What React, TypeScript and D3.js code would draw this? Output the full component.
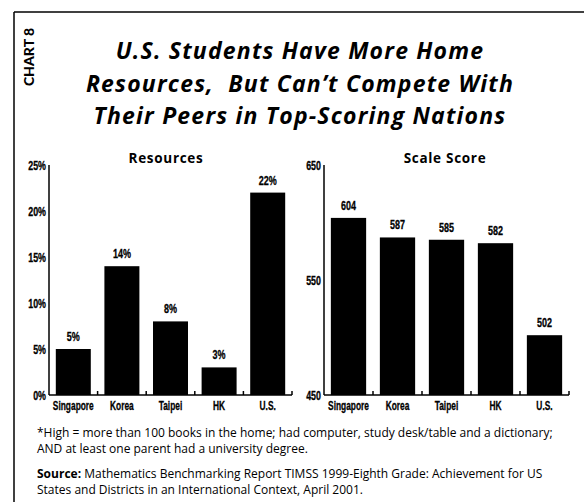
import React from "react";
import * as d3 from "d3";

const countries = ["Singapore", "Korea", "Taipei", "HK", "U.S."];
const resources = [5, 14, 8, 3, 22];
const scores = [604, 587, 585, 582, 502];
const resourceTicks = [0, 5, 10, 15, 20, 25];
const scoreTicks = [450, 550, 650];
const titleLines = [
  "U.S. Students Have More Home",
  "Resources,  But Can\u2019t Compete With",
  "Their Peers in Top-Scoring Nations",
];

const W = 584;
const H = 502;
const arial = "'Liberation Sans', Arial, sans-serif";
const humanist = "'Open Sans', Lato, sans-serif";

function Narrow({ x, y, size, sq, anchor, children }: { x: number; y: number; size: number; sq: number; anchor: string; children: React.ReactNode }) {
  return (
    <g transform={`translate(${x},${y}) scale(${sq},1)`}>
      <text x={0} y={0} textAnchor={anchor} fontFamily={arial} fontWeight={700} fontSize={size} stroke="#000" strokeWidth={0.3}>
        {children}
      </text>
    </g>
  );
}

type PanelProps = {
  x0: number;
  x1: number;
  titleX: number;
  title: string;
  values: number[];
  domain: [number, number];
  ticks: number[];
  fmt: (v: number) => string;
};

function Panel({ x0, x1, titleX, title, values, domain, ticks, fmt }: PanelProps) {
  const yTop = 165;
  const yBot = 395;
  const x = d3.scaleBand<string>().domain(countries).range([x0, x1]).paddingInner(0.28).paddingOuter(0.14);
  const y = d3.scaleLinear().domain(domain).range([yBot, yTop]);
  const step = x.step();
  const boundaries = countries.map((c) => (x(c) as number) + x.bandwidth() + (step * 0.28) / 2);
  return (
    <g>
      <text x={titleX} y={163} textAnchor="middle" fontFamily={humanist} fontWeight={700} fontSize={13.5} letterSpacing={0.7}>
        {title}
      </text>
      {values.map((v, i) => (
        <rect key={countries[i]} x={x(countries[i])} y={y(v)} width={x.bandwidth()} height={yBot - y(v)} fill="#000" />
      ))}
      {values.map((v, i) => (
        <Narrow key={"l" + countries[i]} x={(x(countries[i]) as number) + x.bandwidth() / 2} y={y(v) - 8} size={12.5} sq={0.72} anchor="middle">
          {fmt(v)}
        </Narrow>
      ))}
      <line x1={x0} x2={x0} y1={yTop} y2={yBot} stroke="#000" strokeWidth={1.5} />
      <line x1={x0} x2={x1} y1={yBot} y2={yBot} stroke="#000" strokeWidth={1.5} />
      {boundaries.map((bx, i) => (
        <line key={"t" + i} x1={bx} x2={bx} y1={yBot} y2={yBot - 4} stroke="#000" strokeWidth={1.5} />
      ))}
      {ticks.map((t) => (
        <Narrow key={"y" + t} x={x0 - 3} y={y(t) + 4.5} size={12} sq={0.74} anchor="end">
          {fmt(t)}
        </Narrow>
      ))}
      {countries.map((c) => (
        <Narrow key={"x" + c} x={(x(c) as number) + x.bandwidth() / 2} y={409.5} size={12.5} sq={0.67} anchor="middle">
          {c}
        </Narrow>
      ))}
    </g>
  );
}

export default function App() {
  return (
    <svg width={W} height={H} style={{ position: "absolute", left: 0, top: 0, background: "#fff" }}>
      <rect x={0} y={0} width={W} height={H} fill="#fff" />
      <line x1={14} x2={W} y1={12} y2={12} stroke="#000" strokeWidth={1.5} />
      <line x1={14} x2={14} y1={12} y2={H} stroke="#000" strokeWidth={1.5} />
      <text
        transform="translate(33.5,57) rotate(-90)"
        textAnchor="middle"
        fontFamily="Lato, sans-serif"
        fontWeight={900}
        fontSize={14}
      >
        CHART 8
      </text>
      {titleLines.map((t, i) => (
        <text
          key={i}
          x={300}
          y={59 + i * 32.5}
          textAnchor="middle"
          fontFamily={humanist}
          fontStyle="italic"
          fontWeight={700}
          fontSize={23}
          letterSpacing={1.2}
          style={{ whiteSpace: "pre" }}
        >
          {t}
        </text>
      ))}
      <Panel x0={49} x1={292} titleX={166} title="Resources" values={resources} domain={[0, 25]} ticks={resourceTicks} fmt={(v) => v + "%"} />
      <Panel x0={324} x1={569} titleX={445} title="Scale Score" values={scores} domain={[450, 650]} ticks={scoreTicks} fmt={(v) => String(v)} />
      <g fontFamily={humanist} fontSize={12} style={{ whiteSpace: "pre" }}>
        <text x={37} y={437}>*High = more than 100 books in the home; had computer, study desk/table and a dictionary;</text>
        <text x={37} y={453}>AND at least one parent had a university degree.</text>
        <text x={37} y={478}>
          <tspan fontWeight={700}>Source:</tspan> Mathematics Benchmarking Report TIMSS 1999-Eighth Grade:  Achievement for US
        </text>
        <text x={37} y={494}>States and Districts in an International Context, April 2001.</text>
      </g>
    </svg>
  );
}
